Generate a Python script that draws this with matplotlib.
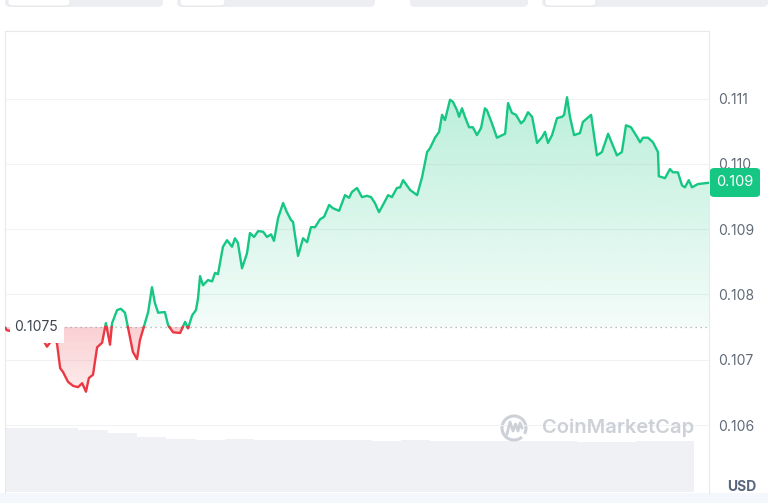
import numpy as np
import matplotlib
matplotlib.use('Agg')
import matplotlib.pyplot as plt
from matplotlib.patches import Rectangle, FancyBboxPatch, PathPatch, Arc
from matplotlib.path import Path

plt.rcParams['font.family'] = ['Inter', 'DejaVu Sans']

# 24h price, hours since start
hours = [0, 0.07, 0.51, 1.02, 1.33, 1.43, 1.60, 1.77, 1.88, 1.98, 2.15, 2.32, 2.49,
         2.63, 2.76, 2.86, 3.00, 3.14, 3.31, 3.44, 3.58, 3.65, 3.82, 3.95, 4.09, 4.19,
         4.36, 4.50, 4.60, 4.77, 4.88, 5.01, 5.11, 5.22, 5.45, 5.56, 5.73, 5.97, 6.14,
         6.24, 6.38, 6.51, 6.58, 6.65, 6.75, 6.92, 7.06, 7.16, 7.26, 7.43, 7.57, 7.74,
         7.84, 7.94, 8.08, 8.25, 8.35, 8.49, 8.63, 8.80, 8.93, 9.07, 9.17, 9.31, 9.48,
         9.61, 9.75, 9.82, 9.99, 10.16, 10.30, 10.43, 10.57, 10.74, 10.88, 11.05, 11.18,
         11.39, 11.59, 11.73, 11.83, 12.00, 12.17, 12.34, 12.48, 12.61, 12.75, 12.92,
         13.06, 13.19, 13.36, 13.47, 13.57, 13.81, 14.05, 14.22, 14.39, 14.49, 14.66,
         14.80, 14.90, 15.00, 15.17, 15.27, 15.41, 15.48, 15.58, 15.68, 15.82, 15.95,
         16.09, 16.23, 16.36, 16.43, 16.60, 16.77, 17.05, 17.15, 17.28, 17.42, 17.59,
         17.69, 17.83, 17.97, 18.14, 18.31, 18.41, 18.51, 18.65, 18.82, 18.99, 19.06,
         19.16, 19.26, 19.40, 19.60, 19.70, 19.98, 20.18, 20.35, 20.56, 20.86, 21.03,
         21.17, 21.34, 21.55, 21.65, 21.75, 21.92, 22.09, 22.26, 22.29, 22.50, 22.67,
         22.77, 22.94, 23.08, 23.18, 23.31, 23.42, 23.62, 24.00]
price = [0.10749, 0.10745, 0.10742, 0.10736, 0.10728, 0.10720, 0.10730, 0.10726, 0.10687,
         0.10681, 0.10666, 0.10660, 0.10658, 0.10664, 0.10651, 0.10672, 0.10677, 0.10719,
         0.10726, 0.10756, 0.10723, 0.10756, 0.10776, 0.10778, 0.10772, 0.10750, 0.10712,
         0.10701, 0.10730, 0.10756, 0.10773, 0.10811, 0.10787, 0.10772, 0.10773, 0.10753,
         0.10742, 0.10741, 0.10758, 0.10748, 0.10768, 0.10776, 0.10794, 0.10828, 0.10814,
         0.10822, 0.10820, 0.10833, 0.10831, 0.10873, 0.10883, 0.10873, 0.10886, 0.10879,
         0.10840, 0.10863, 0.10894, 0.10888, 0.10897, 0.10896, 0.10888, 0.10892, 0.10882,
         0.10917, 0.10940, 0.10926, 0.10914, 0.10911, 0.10859, 0.10886, 0.10880, 0.10903,
         0.10903, 0.10915, 0.10919, 0.10937, 0.10932, 0.10928, 0.10952, 0.10948, 0.10957,
         0.10963, 0.10949, 0.10951, 0.10949, 0.10940, 0.10926, 0.10940, 0.10952, 0.10949,
         0.10963, 0.10964, 0.10975, 0.10960, 0.10952, 0.10980, 0.11018, 0.11024, 0.11040,
         0.11049, 0.11075, 0.11067, 0.11098, 0.11095, 0.11082, 0.11072, 0.11085, 0.11072,
         0.11056, 0.11056, 0.11044, 0.11055, 0.11085, 0.11082, 0.11062, 0.11040, 0.11046,
         0.11093, 0.11078, 0.11075, 0.11062, 0.11066, 0.11079, 0.11072, 0.11032, 0.11041,
         0.11049, 0.11032, 0.11044, 0.11070, 0.11072, 0.11075, 0.11102, 0.11072, 0.11044,
         0.11047, 0.11064, 0.11075, 0.11013, 0.11018, 0.11046, 0.11013, 0.11018, 0.11059,
         0.11056, 0.11041, 0.11033, 0.11040, 0.11040, 0.11033, 0.11018, 0.10981, 0.10978,
         0.10992, 0.10987, 0.10987, 0.10967, 0.10964, 0.10975, 0.10964, 0.10969, 0.10971]

# hourly volume (relative)
vol_hours = list(range(24))
volume = [100, 100, 100, 97, 92, 86, 83, 82, 83, 82, 81, 82,
          81, 80, 81, 80, 80, 79, 80, 79, 78, 78, 79, 80]

base = 0.1075
yticks = [0.106, 0.107, 0.108, 0.109, 0.110, 0.111]
ytick_labels = ['0.106', '0.107', '0.108', '0.109', '0.110', '0.111']
last_label = '0.109'

GREEN = '#16c784'
RED = '#ea3943'
W, H = 768, 503


def fx(x):
    return x / W


def fy(y):
    return 1 - y / H


fig = plt.figure(figsize=(7.68, 5.03), dpi=100)
fig.patch.set_facecolor('white')

# cut-off tab bar at the very top
for x0, x1, wx0, wx1 in [(5, 163, 8, 70), (177, 375, 180, 225),
                         (410, 528, None, None), (542, 768, 545, 596)]:
    fig.add_artist(FancyBboxPatch((fx(x0), fy(7)), fx(x1 - x0), 7 / H + 0.01,
                                  boxstyle='round,pad=0,rounding_size=0.008',
                                  transform=fig.transFigure, facecolor='#eceef2',
                                  edgecolor='none'))
    if wx0 is not None:
        fig.add_artist(FancyBboxPatch((fx(wx0), fy(6)), fx(wx1 - wx0), 6 / H + 0.01,
                                      boxstyle='round,pad=0,rounding_size=0.006',
                                      transform=fig.transFigure, facecolor='white',
                                      edgecolor='#e2e4e8', lw=0.6))

# light strip at the bottom
fig.add_artist(Rectangle((0, 0), 1, 10 / H, transform=fig.transFigure,
                         facecolor='#f4f7fb', edgecolor='none'))

# volume band
vax = fig.add_axes([fx(5), fy(492), fx(704), 64 / H], zorder=0)
vax.bar(vol_hours, volume, width=1.0, color='#f0f1f4', linewidth=0)
vax.set_xlim(0, 24)
vax.set_ylim(0, 100)
vax.axis('off')

ax = fig.add_axes([fx(5), fy(493), fx(704), 462 / H], zorder=1)
ax.patch.set_alpha(0)

t = np.array(hours)
p = np.array(price)

# insert crossing points so the colour switches exactly at the baseline
tt, yy = [t[0]], [p[0]]
for i in range(1, len(t)):
    a, b = p[i - 1] - base, p[i] - base
    if a * b < 0:
        f = a / (a - b)
        tt.append(t[i - 1] + f * (t[i] - t[i - 1]))
        yy.append(base)
    tt.append(t[i])
    yy.append(p[i])
tt = np.array(tt)
yy = np.array(yy)

ymin, ymax = 0.104959, 0.112034


def gradient_fill(where, color, lo, hi, a_lo, a_hi):
    poly = ax.fill_between(tt, yy, base, where=where, facecolor='none', edgecolor='none')
    path = Path.make_compound_path(*poly.get_paths())
    patch = PathPatch(path, transform=ax.transData, facecolor='none', edgecolor='none')
    ax.add_patch(patch)
    rgb = matplotlib.colors.to_rgb(color)
    grad = np.zeros((100, 1, 4))
    grad[:, 0, :3] = rgb
    grad[:, 0, 3] = np.linspace(a_lo, a_hi, 100)
    im = ax.imshow(grad, extent=[0, 24, lo, hi], origin='lower', aspect='auto',
                   interpolation='bilinear', zorder=1)
    im.set_clip_path(patch)


gradient_fill(yy >= base, GREEN, base, 0.1112, 0.05, 0.30)
gradient_fill(yy <= base, RED, 0.1064, base, 0.08, 0.24)

green = np.where(yy >= base, yy, np.nan)
red = np.where(yy <= base, yy, np.nan)
ax.plot(tt, green, color=GREEN, lw=1.7, zorder=3, solid_joinstyle='round')
ax.plot(tt, red, color=RED, lw=1.7, zorder=3, solid_joinstyle='round')

# baseline (open price) with its label box
ax.axhline(base, color='#a0a6ae', lw=0.9, ls=(0, (1, 3)), zorder=2)
ax.add_patch(Rectangle((0.17, 0.107256), 1.85, 0.107746 - 0.107256,
                       facecolor='white', edgecolor='none', zorder=4))
ax.text(0.31, base, '0.1075', fontsize=10, color='#3d4450', va='center', ha='left',
        zorder=5)

ax.set_xlim(0, 24)
ax.set_ylim(ymin, ymax)
ax.set_yticks(yticks)
ax.set_yticklabels(ytick_labels)
ax.yaxis.tick_right()
ax.tick_params(axis='y', length=0, pad=6.5, labelsize=10, labelcolor='#616a78')
ax.set_xticks([])
ax.grid(axis='y', color='#f1f2f4', lw=0.8)
ax.set_axisbelow(True)
for side in ['left', 'top', 'right']:
    ax.spines[side].set_color('#e8e9eb')
    ax.spines[side].set_linewidth(0.8)
ax.spines['bottom'].set_visible(False)

# current price badge
fig.add_artist(FancyBboxPatch((fx(710), fy(197)), fx(50), 29 / H,
                              boxstyle='round,pad=0,rounding_size=0.006',
                              transform=fig.transFigure, facecolor=GREEN,
                              edgecolor='none', zorder=5))
fig.text(fx(735), fy(182.5), last_label, color='white', fontsize=10.5,
         ha='center', va='center', zorder=6)

fig.text(fx(742), fy(487), 'USD', color='#58667e', fontsize=10, fontweight='bold',
         ha='center', va='center')

# watermark
wm = '#cdd1d7'
fig.add_artist(Arc((fx(514), fy(428)), 24 / W, 24 / H, theta1=-40, theta2=300,
                   transform=fig.transFigure, color=wm, lw=2.2))
mx = [507, 510, 513, 515.5, 518, 520, 522]
my = [434, 422, 431, 424, 431, 423, 428]
fig.add_artist(plt.Line2D([fx(v) for v in mx], [fy(v) for v in my],
                          transform=fig.transFigure, color=wm, lw=2.0,
                          solid_joinstyle='round'))
fig.text(fx(542), fy(428), 'CoinMarketCap', color=wm, fontsize=14.5,
         fontweight='semibold', ha='left', va='center')

fig.savefig('out.png', dpi=100)
